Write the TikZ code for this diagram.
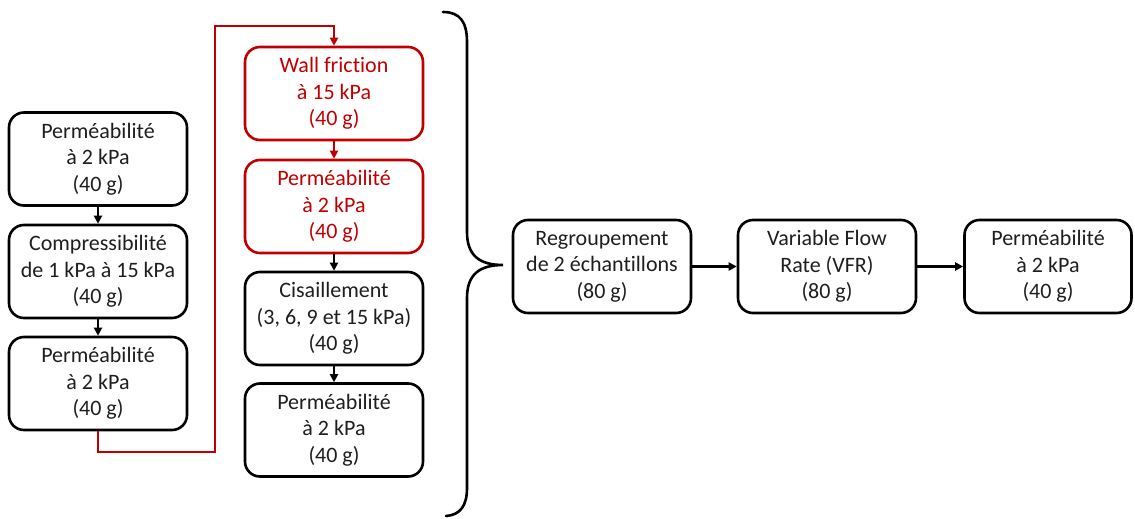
\documentclass[tikz,border=0pt]{standalone}
\usepackage{fontspec}
\setmainfont{Carlito}[Ligatures={NoCommon}]
\usetikzlibrary{arrows.meta}
\definecolor{myred}{HTML}{C00000}
\definecolor{txt}{HTML}{1E1E1E}
\begin{document}
\begin{tikzpicture}[x=1pt,y=-1pt,
 box/.style={draw=black,line width=2.6pt,rounded corners=15pt,minimum width=178pt,minimum height=93pt,inner sep=0pt,align=center,text=txt,font=\fontsize{22}{26.5}\selectfont},
 redbox/.style={box,draw=myred,text=myred},
 conn/.style={line width=2.2pt,-{Triangle[length=8pt,width=8pt]}},
 redconn/.style={conn,draw=myred,line width=2.6pt},
 bracestyle/.style={line width=2.6pt,line cap=round}]
\useasboundingbox (0,0) rectangle (1135,519);
% left column
\node[box] (L1) at (98,159) {Perméabilité\\à 2 kPa\\(40 g)};
\node[box] (L2) at (98,271.5) {Compressibilité\\de 1 kPa à 15 kPa\\(40 g)};
\node[box] (L3) at (98,383.5) {Perméabilité\\à 2 kPa\\(40 g)};
% middle column
\node[redbox] (M1) at (334,93.5) {Wall friction\\à 15 kPa\\(40 g)};
\node[redbox] (M2) at (334,206.5) {Perméabilité\\à 2 kPa\\(40 g)};
\node[box] (M3) at (334,318.5) {Cisaillement\\(3, 6, 9 et 15 kPa)\\(40 g)};
\node[box] (M4) at (334,430) {Perméabilité\\à 2 kPa\\(40 g)};
% right row
\node[box] (R1) at (602,266.5) {Regroupement\\de 2 échantillons\\(80 g)};
\node[box] (R2) at (827,266.5) {Variable Flow\\Rate (VFR)\\(80 g)};
\node[box,minimum width=167pt] (R3) at (1048,266.5) {Perméabilité\\à 2 kPa\\(40 g)};
% connectors
\draw[conn] (L1) -- (L2);
\draw[conn] (L2) -- (L3);
\draw[redconn] (M1) -- (M2);
\draw[conn] (M2) -- (M3);
\draw[conn] (M3) -- (M4);
\draw[conn] (R1) -- (R2);
\draw[conn] (R2) -- (R3);
\coordinate (rb) at (215,452);
\coordinate (rt) at (215,26);
\draw[redconn] (L3.south) |- (rb) -- (rt) -| (M1.north);
% brace
\coordinate (tip) at (503,265);
\draw[bracestyle] (443,12) .. controls (460,12) and (467,22) .. (467,42) -- (467,232)
  .. controls (467,256) and (480,265) .. (tip)
  .. controls (480,265) and (467,274) .. (467,298) -- (467,488)
  .. controls (467,506) and (460,515) .. (446,516);
\end{tikzpicture}
\end{document}
